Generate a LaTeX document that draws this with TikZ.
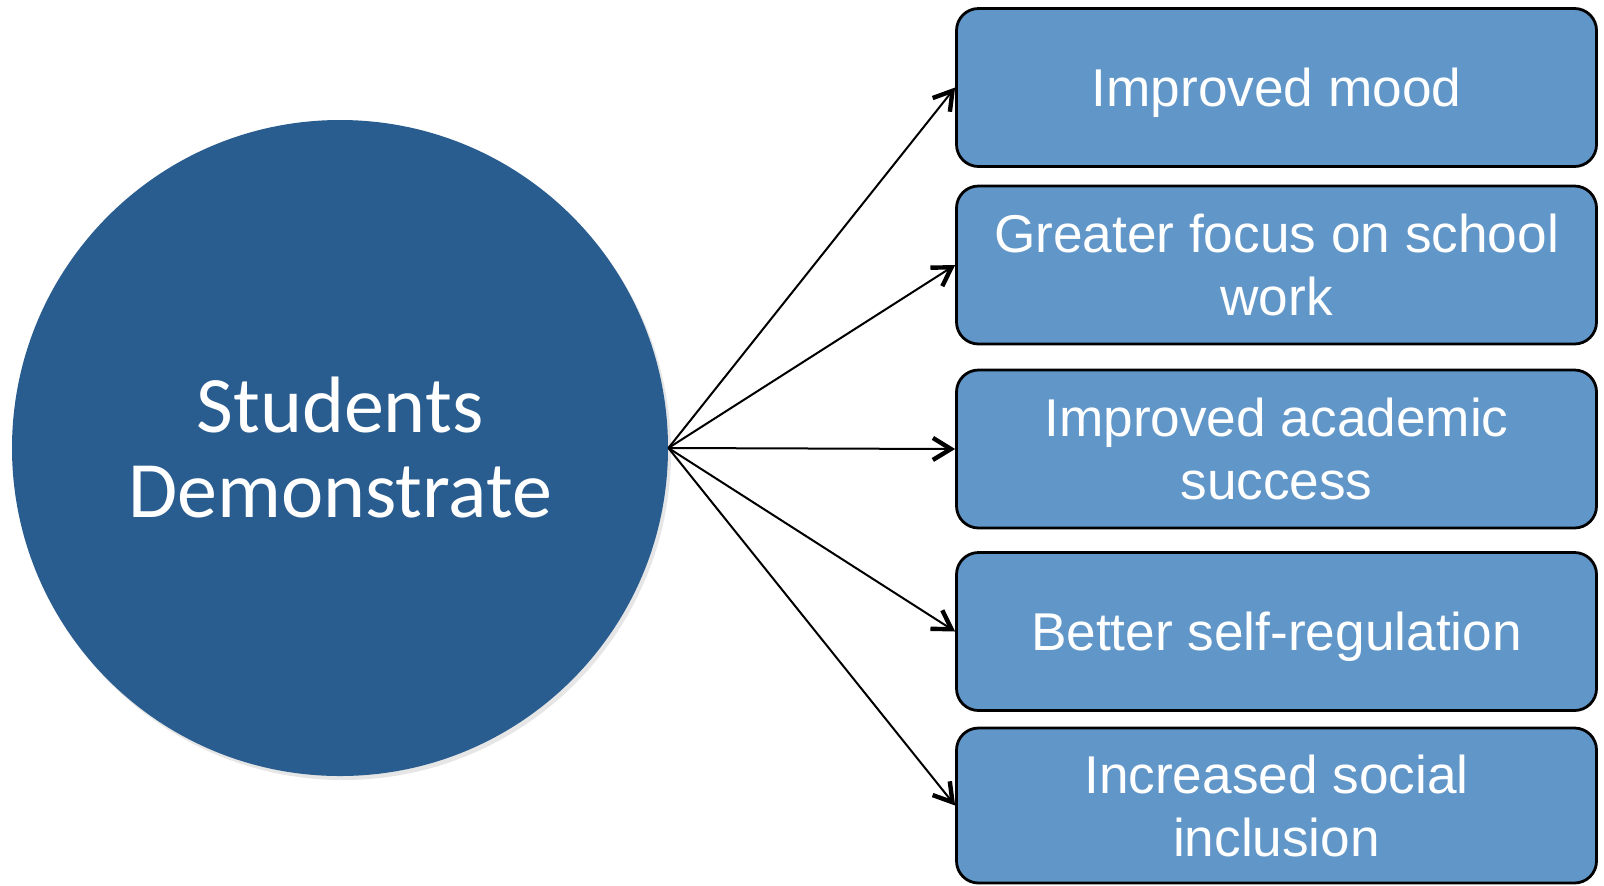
\documentclass[tikz,border=0pt]{standalone}
\usepackage{fontspec}
\setmainfont{Liberation Sans}
\newfontfamily\carlito{Carlito}
\usetikzlibrary{arrows.meta,shadows}
\definecolor{circblue}{RGB}{41,93,143}
\definecolor{boxblue}{RGB}{97,150,201}
\begin{document}
\begin{tikzpicture}[x=0.5pt,y=-0.5pt,
 hub/.style={circle,fill=circblue,minimum size=328pt,inner sep=0pt,text=white,align=center,
  font=\carlito\fontsize{40}{42.5}\selectfont,drop shadow={opacity=0.2,shadow xshift=1.5pt,shadow yshift=-2pt}},
 outcome/.style={draw=black,line width=1.4pt,rounded corners=11pt,fill=boxblue,text=white,
  minimum width=320pt,minimum height=79pt,align=center,font=\fontsize{26.6}{31.5}\selectfont},
 oneline/.style={text depth=0pt},
 link/.style={line width=1pt,-{Straight Barb[length=9pt,width=11pt,line width=2.2pt]}}]
 \useasboundingbox (0,0) rectangle (1604,885);
 \node[hub] (hub) at (340,448) {Students\\Demonstrate};
 \node[outcome,oneline] (mood) at (1276.5,87.5) {Improved mood};
 \node[outcome] (focus) at (1276.5,265) {Greater focus on school\\work};
 \node[outcome] (acad) at (1276.5,449) {Improved academic\\success};
 \node[outcome,oneline] (selfreg) at (1276.5,631.5) {Better self-regulation};
 \node[outcome,minimum height=77.5pt] (social) at (1276.5,805.5) {Increased social\\inclusion};
 \draw[link] (hub.east) -- (mood.west);
 \draw[link] (hub.east) -- (focus.west);
 \draw[link] (hub.east) -- (acad.west);
 \draw[link] (hub.east) -- (selfreg.west);
 \draw[link] (hub.east) -- (social.west);
\end{tikzpicture}
\end{document}
